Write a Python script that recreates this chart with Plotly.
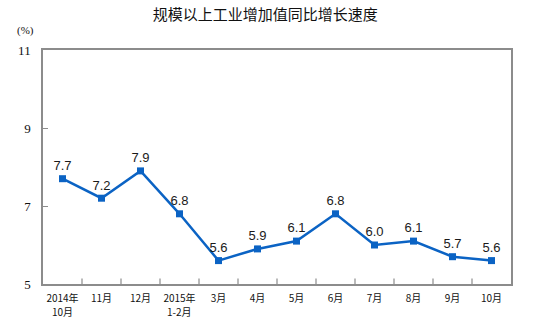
import plotly.graph_objects as go

months = ["2014年", "11月", "12月", "2015年", "3月", "4月", "5月",
          "6月", "7月", "8月", "9月", "10月"]
month_sublabels = {0: "10月", 3: "1-2月"}
growth = [7.7, 7.2, 7.9, 6.8, 5.6, 5.9, 6.1, 6.8, 6.0, 6.1, 5.7, 5.6]
y_ticks = [5, 7, 9, 11]

blue = "#0B63C4"
axis_gray = "#8C8C8C"
label_font = dict(family="Noto Sans CJK SC", size=10, color="#111")

fig = go.Figure(
    go.Scatter(
        x=list(range(len(months))),
        y=growth,
        mode="lines+markers+text",
        line=dict(color=blue, width=2.5),
        marker=dict(symbol="square", size=7, color=blue),
        text=[f"{v:.1f}" for v in growth],
        textposition="top center",
        textfont=dict(family="Liberation Sans, Arial", size=13, color="#1a1a1a"),
        cliponaxis=False,
        hoverinfo="skip",
    )
)

annotations = [
    dict(
        text="(%)",
        xref="paper", yref="paper",
        x=-0.038, y=1.085,
        xanchor="center", yanchor="middle",
        showarrow=False,
        font=dict(family="Liberation Serif", size=11, color="#111"),
    )
]
# Second line of the two-line month labels
for idx, sub in month_sublabels.items():
    annotations.append(
        dict(
            text=sub,
            xref="x", yref="paper",
            x=idx, y=0,
            yshift=-27,
            xanchor="center", yanchor="middle",
            showarrow=False,
            font=label_font,
        )
    )

fig.update_layout(
    width=539,
    height=325,
    margin=dict(l=43, r=28, t=50, b=41),
    paper_bgcolor="white",
    plot_bgcolor="white",
    showlegend=False,
    title=dict(
        text="规模以上工业增加值同比增长速度",
        x=0.492,
        xanchor="center",
        y=0.955,
        yanchor="middle",
        font=dict(family="Noto Sans CJK SC", size=15, color="#111"),
    ),
    annotations=annotations,
)

fig.update_xaxes(
    range=[-0.5, len(months) - 0.5],
    tickmode="array",
    tickvals=list(range(len(months))),
    ticktext=months,
    showgrid=False,
    zeroline=False,
    showline=True,
    mirror=True,
    linecolor=axis_gray,
    linewidth=1.5,
    ticks="",
    tickfont=label_font,
    ticklabelstandoff=4,
    fixedrange=True,
)

# Category boundary tick marks drawn along the bottom axis, inside the plot
fig.add_trace(
    go.Scatter(
        x=[i + 0.5 for i in range(len(months) - 1)],
        y=[5] * (len(months) - 1),
        mode="markers",
        marker=dict(symbol="line-ns", size=8, line=dict(color=axis_gray, width=1.2)),
        cliponaxis=True,
        hoverinfo="skip",
    )
)

fig.update_yaxes(
    range=[5, 11],
    tickmode="array",
    tickvals=y_ticks,
    showgrid=False,
    zeroline=False,
    showline=True,
    mirror=True,
    linecolor=axis_gray,
    linewidth=1.5,
    ticks="inside",
    ticklen=5,
    tickcolor=axis_gray,
    tickfont=dict(family="Liberation Serif", size=13, color="#111"),
    ticklabelstandoff=8,
    fixedrange=True,
)

fig.write_html("out.html")
